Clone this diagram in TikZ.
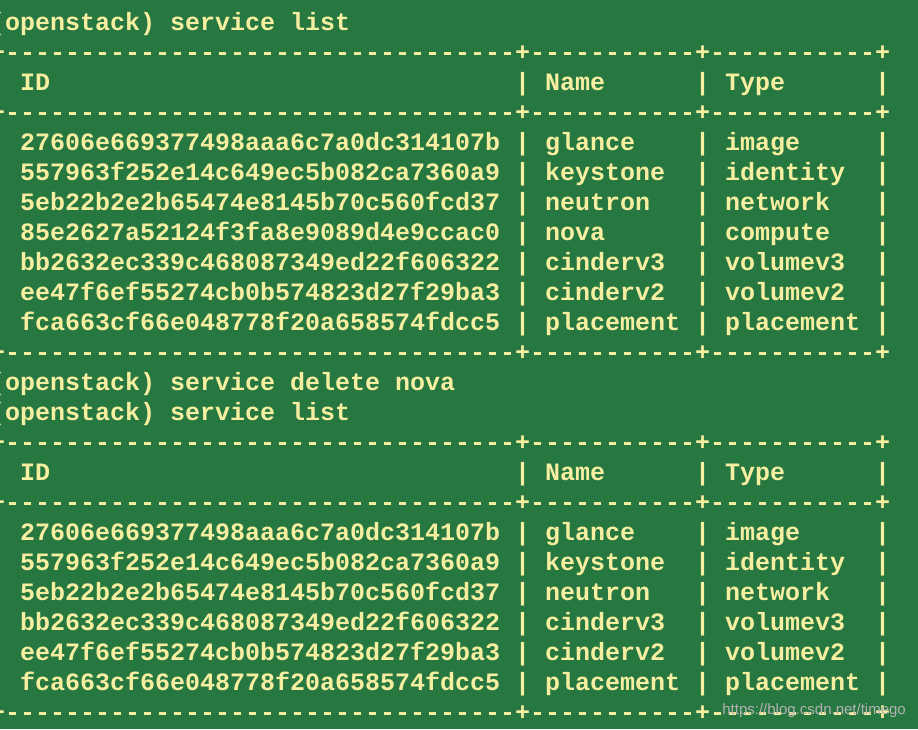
\documentclass[tikz,border=0pt]{standalone}
\usepackage{fontspec}
\setmonofont{Liberation Mono}
\setsansfont{Liberation Sans}
\definecolor{termbg}{RGB}{39,119,64}
\definecolor{termfg}{RGB}{246,238,160}
\tikzset{
  txt/.style={anchor=west,inner sep=0pt,text=termfg,font=\ttfamily\bfseries\fontsize{25}{25}\selectfont,text height=18pt,text depth=5pt},
  wmark/.style={anchor=east,inner sep=0pt,text=gray!60,font=\sffamily\fontsize{15}{15}\selectfont}
}
\newcommand{\sepline}{+----------------------------------+-----------+-----------+}
\begin{document}
\begin{tikzpicture}[x=1pt,y=1pt]
\fill[termbg] (0,0) rectangle (918,729);
\useasboundingbox (0,0) rectangle (918,729);
\clip (0,0) rectangle (918,729);
% prompts
\node[txt] (p1) at (-10,{729-24}) {(openstack) service list};
\node[txt] (p2) at (-10,{729-24-30*12}) {(openstack) service delete nova};
\node[txt] (p3) at (-10,{729-24-30*13}) {(openstack) service list};
% separators
\foreach \r in {1,3,11,14,16,23}
  \node[txt] (s\r) at (-10,{729-24-30*\r}) {\sepline};
% bars
\foreach \r in {2,4,5,6,7,8,9,10,15,17,18,19,20,21,22}{
  \foreach \c in {-1,34,46,58}
    \node[txt] (b\r-\c) at ({5+15*\c},{729-24-30*\r}) {|};
}
% headers
\foreach \r in {2,15}{
  \node[txt] (hi\r) at (20,{729-24-30*\r}) {ID};
  \node[txt] (hn\r) at (545,{729-24-30*\r}) {Name};
  \node[txt] (ht\r) at (725,{729-24-30*\r}) {Type};
}
% data rows
\foreach \r/\i/\n/\t in {
 4/27606e669377498aaa6c7a0dc314107b/glance/image,
 5/557963f252e14c649ec5b082ca7360a9/keystone/identity,
 6/5eb22b2e2b65474e8145b70c560fcd37/neutron/network,
 7/85e2627a52124f3fa8e9089d4e9ccac0/nova/compute,
 8/bb2632ec339c468087349ed22f606322/cinderv3/volumev3,
 9/ee47f6ef55274cb0b574823d27f29ba3/cinderv2/volumev2,
 10/fca663cf66e048778f20a658574fdcc5/placement/placement,
 17/27606e669377498aaa6c7a0dc314107b/glance/image,
 18/557963f252e14c649ec5b082ca7360a9/keystone/identity,
 19/5eb22b2e2b65474e8145b70c560fcd37/neutron/network,
 20/bb2632ec339c468087349ed22f606322/cinderv3/volumev3,
 21/ee47f6ef55274cb0b574823d27f29ba3/cinderv2/volumev2,
 22/fca663cf66e048778f20a658574fdcc5/placement/placement}{
  \node[txt] (di\r) at (20,{729-24-30*\r}) {\i};
  \node[txt] (dn\r) at (545,{729-24-30*\r}) {\n};
  \node[txt] (dt\r) at (725,{729-24-30*\r}) {\t};
}
\node[wmark] (wm) at (906,18) {https://blog.csdn.net/timego};
\end{tikzpicture}
\end{document}
